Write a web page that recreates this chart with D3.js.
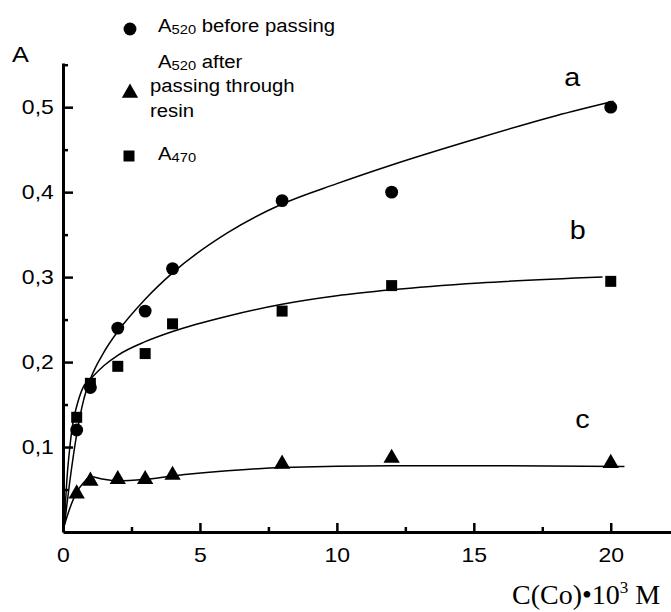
<!DOCTYPE html>
<html>
<head>
<meta charset="utf-8">
<script src="https://cdn.jsdelivr.net/npm/d3@7"></script>
<style>
  body { margin: 0; background: #fff; }
  svg { display: block; }
  text { font-family: "Liberation Sans", Arial, sans-serif; fill: #000; }
</style>
</head>
<body>
<svg id="chart" width="671" height="612"></svg>
<script>
// concentration points (x) and measured absorbances
var conc = [0.5, 1, 2, 3, 4, 8, 12, 20];
var a520Before = [0.12, 0.17, 0.24, 0.26, 0.31, 0.39, 0.40, 0.50];
var a470 = [0.135, 0.175, 0.195, 0.21, 0.245, 0.26, 0.29, 0.295];
var a520After = [0.045, 0.06, 0.062, 0.062, 0.067, 0.08, 0.087, 0.081];

// fitted curves
var fitAx = [0.05, 0.25, 0.5, 0.75, 1, 1.5, 2, 3, 4, 6, 8, 10, 12, 15, 18, 20.1];
var fitAy = [0.008, 0.06, 0.115, 0.155, 0.18, 0.212, 0.236, 0.274, 0.305, 0.352, 0.386, 0.41, 0.432, 0.462, 0.49, 0.507];
var fitBx = [0.05, 0.15, 0.25, 0.37, 0.5, 0.73, 1, 1.5, 2, 3, 4, 6, 8, 10, 12, 15.2, 19.7];
var fitBy = [0.01, 0.065, 0.1, 0.13, 0.148, 0.17, 0.18, 0.196, 0.208, 0.224, 0.236, 0.254, 0.268, 0.278, 0.285, 0.293, 0.30];
var fitCx = [0.05, 0.25, 0.5, 0.75, 1, 1.5, 2, 3, 4, 6, 8, 12, 16, 20.5];
var fitCy = [0.008, 0.028, 0.047, 0.058, 0.065, 0.062, 0.06, 0.062, 0.066, 0.072, 0.076, 0.078, 0.078, 0.077];

var xTicks = [0, 5, 10, 15, 20];
var xMinor = [2.5, 7.5, 12.5, 17.5];
var yTicks = [0.1, 0.2, 0.3, 0.4, 0.5];
var yMinor = [0.05, 0.15, 0.25, 0.35, 0.45, 0.55];

var curveNames = ["a", "b", "c"];
var curveNameAt = [[18.3, 0.525], [18.5, 0.345], [18.7, 0.122]];

var svg = d3.select("#chart");
var sx = 1.15; // text in the picture is a bit wide

var x = d3.scaleLinear().domain([0, 22.2]).range([63, 671]);
var y = d3.scaleLinear().domain([0, 0.552]).range([532, 63]);

var comma = function(d) { return String(d).replace(".", ","); };

// y axis
var yAxis = svg.append("g").attr("transform", "translate(63,0)")
  .call(d3.axisLeft(y).tickValues(yTicks).tickSize(-10).tickSizeOuter(0).tickFormat(comma));
yAxis.select(".domain").attr("stroke-width", 3);
yAxis.selectAll(".tick line").attr("stroke-width", 2.5);
yAxis.selectAll(".tick text")
  .attr("x", -8)
  .attr("transform", "scale(" + sx + ",1)")
  .style("font-size", "20px")
  .style("font-family", "'Liberation Sans', Arial, sans-serif");

svg.append("g").attr("transform", "translate(63,0)")
  .call(d3.axisLeft(y).tickValues(yMinor).tickSize(-5).tickFormat(""))
  .call(g => g.select(".domain").remove())
  .selectAll(".tick line").attr("stroke-width", 2.5);

// x axis
var xAxis = svg.append("g").attr("transform", "translate(0,532)")
  .call(d3.axisBottom(x).tickValues(xTicks).tickSize(-9).tickSizeOuter(0).tickPadding(16));
xAxis.select(".domain").attr("stroke-width", 3);
xAxis.selectAll(".tick line").attr("stroke-width", 2.5);
xAxis.selectAll(".tick text")
  .attr("transform", "scale(" + sx + ",1)")
  .style("font-size", "20px")
  .style("font-family", "'Liberation Sans', Arial, sans-serif");

svg.append("g").attr("transform", "translate(0,532)")
  .call(d3.axisBottom(x).tickValues(xMinor).tickSize(-5).tickFormat(""))
  .call(g => g.select(".domain").remove())
  .selectAll(".tick line").attr("stroke-width", 2.5);

// fitted lines
var line = d3.line().x(d => x(d[0])).y(d => y(d[1])).curve(d3.curveMonotoneX);
[[fitAx, fitAy], [fitBx, fitBy], [fitCx, fitCy]].forEach(function(f) {
  svg.append("path")
    .datum(d3.zip(f[0], f[1]))
    .attr("d", line)
    .attr("fill", "none")
    .attr("stroke", "#000")
    .attr("stroke-width", 1.5);
});

// markers
var circleSym = d3.symbol().type(d3.symbolCircle).size(130);
var squareSym = d3.symbol().type(d3.symbolSquare).size(121);
var triSym = d3.symbol().type(d3.symbolTriangle).size(115);

function plotSeries(vals, sym) {
  svg.append("g").selectAll("path")
    .data(d3.zip(conc, vals))
    .enter().append("path")
    .attr("transform", d => "translate(" + x(d[0]) + "," + y(d[1]) + ")")
    .attr("d", sym)
    .attr("fill", "#000");
}
plotSeries(a520Before, circleSym);
plotSeries(a470, squareSym);
plotSeries(a520After, triSym);

// curve names
svg.append("g").selectAll("text")
  .data(curveNames)
  .enter().append("text")
  .attr("transform", (d, i) => "translate(" + x(curveNameAt[i][0]) + "," + y(curveNameAt[i][1]) + ") scale(" + sx + ",1)")
  .style("font-size", "25px")
  .text(d => d);

// axis titles
svg.append("text")
  .attr("transform", "translate(12,62) scale(" + sx + ",1)")
  .style("font-size", "22px")
  .text("A");

svg.append("text")
  .attr("x", 512).attr("y", 604)
  .style("font-family", "'Liberation Serif', 'Times New Roman', serif")
  .style("font-size", "28px")
  .call(t => {
    t.append("tspan").text("C(Co)\u202210");
    t.append("tspan").attr("dy", -11).style("font-size", "17px").text("3");
    t.append("tspan").attr("dy", 11).text(" M");
  });

// legend
svg.append("path").attr("transform", "translate(130,29)").attr("d", circleSym).attr("fill", "#000");
svg.append("path").attr("transform", "translate(130,93)").attr("d", triSym).attr("fill", "#000");
svg.append("path").attr("transform", "translate(129,156)").attr("d", squareSym).attr("fill", "#000");

function subLabel(px, py, main, sub, rest) {
  var t = svg.append("text")
    .attr("transform", "translate(" + px + "," + py + ") scale(" + (sx - 0.02) + ",1)")
    .style("font-size", "18px");
  t.append("tspan").text(main);
  t.append("tspan").attr("dy", 2).style("font-size", "13px").text(sub);
  t.append("tspan").attr("dy", -2).text(rest);
}
subLabel(158, 32, "A", "520", " before passing");
subLabel(158, 68, "A", "520", " after");
svg.append("text").attr("transform", "translate(150,92) scale(" + (sx - 0.02) + ",1)")
  .style("font-size", "18px").text("passing through");
svg.append("text").attr("transform", "translate(150,117) scale(" + (sx - 0.02) + ",1)")
  .style("font-size", "18px").text("resin");
subLabel(158, 160, "A", "470", "");
</script>
</body>
</html>
